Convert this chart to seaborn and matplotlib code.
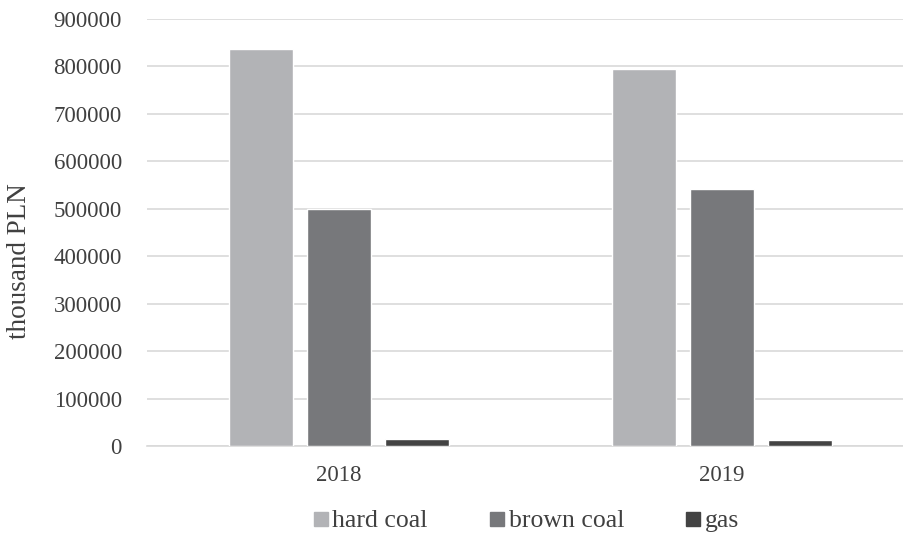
import matplotlib
matplotlib.use("Agg")
import matplotlib.pyplot as plt
from matplotlib.lines import Line2D
import seaborn as sns
import pandas as pd

years = ["2018", "2019"]
fuels = ["hard coal", "brown coal", "gas"]
hard_coal = [836000, 794000]
brown_coal = [499000, 541000]
gas = [14500, 12500]
colors = ["#b2b3b6", "#77787b", "#434343"]
y_ticks = [0, 100000, 200000, 300000, 400000, 500000, 600000, 700000, 800000, 900000]

df = pd.DataFrame({
    "year": years * 3,
    "fuel": [f for f in fuels for _ in years],
    "value": hard_coal + brown_coal + gas,
})

sns.set_theme(style="white")
plt.rcParams["font.family"] = ["Liberation Serif", "DejaVu Serif"]

fig = plt.figure(figsize=(9.04, 5.41), dpi=100)
ax = fig.add_axes([147.5 / 904, 95 / 541, 766 / 904, 427 / 541])

sns.barplot(data=df, x="year", y="value", hue="fuel", order=years,
            hue_order=fuels, palette=colors, width=0.611, gap=0.18,
            saturation=1, ax=ax, legend=False, zorder=3)

ax.set_ylim(0, 900000)
ax.set_yticks(y_ticks)
ax.set_yticklabels([str(v) for v in y_ticks])
ax.set_xlim(-0.5, 1.5)
ax.yaxis.grid(True, color="#d9d9d9", linewidth=1.2, zorder=0)
ax.set_axisbelow(True)
for side in ["left", "right", "top"]:
    ax.spines[side].set_visible(False)
ax.spines["bottom"].set_color("#d9d9d9")
ax.spines["bottom"].set_linewidth(1.2)
ax.tick_params(axis="both", length=0, labelsize=16.5, colors="#404040")
ax.tick_params(axis="y", pad=18.5)
ax.tick_params(axis="x", pad=14)
ax.set_xlabel("")
ax.set_ylabel("")
fig.text(20 / 904, 1 - 261 / 541, "thousand PLN", rotation=90, ha="center",
         va="center", fontsize=19.5, color="#404040")

handles = [Line2D([], [], marker="s", linestyle="none", markersize=10.5,
                  markerfacecolor=c, markeredgecolor=c) for c in colors]
fig.legend(handles, fuels, loc="center", bbox_to_anchor=(526 / 904, 1 - 521 / 541),
           ncol=3, frameon=False, fontsize=18.5, handletextpad=0.15,
           columnspacing=2.4, labelcolor="#404040", handlelength=0.6,
           borderpad=0, borderaxespad=0)

fig.savefig("out.png", dpi=100)
